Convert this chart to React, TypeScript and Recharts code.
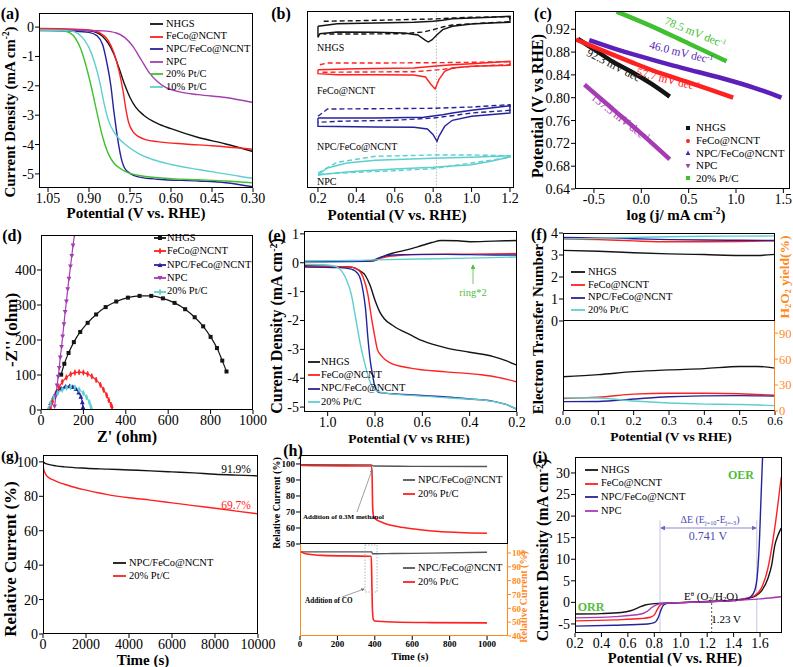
import React from "react";
import { LineChart, Line, XAxis, YAxis, ReferenceLine } from "recharts";

const FONT = "'Liberation Serif','Times New Roman',Times,serif";
const ORANGE = "#ff8a1c";
const GREEN = "#52bd3c";

type P = [number, number];
type Rect = { x: number; y: number; w: number; h: number };
type Mk = "sq" | "circ" | "tri" | "trid" | "star";

// ---------- (a) ORR LSV ----------
const aXTicks = [1.05, 0.9, 0.75, 0.6, 0.45, 0.3];
const aYTicks = [0, -1, -2, -3, -4, -5];
const aNHGS: P[] = [[1.08, -0.08], [0.95, -0.1], [0.9, -0.13], [0.87, -0.2], [0.85, -0.32], [0.83, -0.55], [0.81, -0.9], [0.79, -1.4], [0.77, -1.95], [0.75, -2.4], [0.73, -2.72], [0.7, -3.0], [0.65, -3.28], [0.6, -3.46], [0.5, -3.76], [0.4, -3.98], [0.3, -4.24]];
const aFeCo: P[] = [[1.08, -0.05], [0.95, -0.07], [0.9, -0.1], [0.86, -0.2], [0.83, -0.45], [0.81, -0.85], [0.79, -1.5], [0.775, -2.2], [0.765, -2.8], [0.755, -3.25], [0.74, -3.55], [0.72, -3.72], [0.69, -3.84], [0.65, -3.9], [0.55, -3.98], [0.45, -4.04], [0.3, -4.16]];
const aNPCFeCo: P[] = [[1.08, -0.12], [0.95, -0.14], [0.9, -0.18], [0.87, -0.3], [0.85, -0.6], [0.835, -1.2], [0.82, -2.0], [0.81, -2.8], [0.8, -3.5], [0.79, -4.1], [0.78, -4.55], [0.77, -4.8], [0.75, -4.98], [0.72, -5.1], [0.65, -5.18], [0.5, -5.24], [0.4, -5.3], [0.3, -5.44]];
const aNPC: P[] = [[1.08, -0.08], [0.95, -0.1], [0.85, -0.13], [0.8, -0.2], [0.77, -0.35], [0.74, -0.65], [0.71, -1.1], [0.68, -1.55], [0.65, -1.85], [0.62, -2.05], [0.58, -2.18], [0.5, -2.3], [0.4, -2.4], [0.3, -2.57]];
const aPt20: P[] = [[1.08, -0.1], [1.0, -0.12], [0.97, -0.2], [0.95, -0.38], [0.93, -0.75], [0.91, -1.35], [0.89, -2.1], [0.87, -2.95], [0.85, -3.75], [0.83, -4.3], [0.81, -4.62], [0.78, -4.85], [0.75, -4.98], [0.7, -5.08], [0.6, -5.16], [0.5, -5.2], [0.4, -5.24], [0.3, -5.3]];
const aPt10: P[] = [[1.08, -0.1], [0.97, -0.13], [0.94, -0.22], [0.92, -0.4], [0.9, -0.7], [0.88, -1.2], [0.86, -1.9], [0.845, -2.6], [0.83, -3.15], [0.81, -3.55], [0.79, -3.8], [0.76, -4.05], [0.72, -4.3], [0.67, -4.5], [0.6, -4.68], [0.5, -4.85], [0.4, -5.0], [0.35, -5.08], [0.3, -5.15]];

// ---------- (b) CV loops (arbitrary current, stacked) ----------
const bXTicks = [0.2, 0.4, 0.6, 0.8, 1.0, 1.2];
const bNHGS: P[] = [[0.2, 161.7], [0.3, 164.3], [0.5, 165], [0.7, 165.7], [0.8, 166.7], [0.85, 167.7], [0.9, 169.3], [1.0, 170], [1.1, 170.7], [1.2, 171.7], [1.2, 165.7], [1.1, 165], [1.0, 164], [0.9, 161.7], [0.85, 158.3], [0.82, 153.3], [0.795, 148.3], [0.775, 146], [0.76, 147.7], [0.72, 153], [0.65, 155], [0.5, 155.7], [0.3, 156], [0.21, 154.3], [0.2, 150.7], [0.2, 161.7]];
const bNHGSd: P[] = [[0.23, 166.7], [0.5, 167.7], [0.8, 169], [0.9, 170], [1.0, 170.7], [1.2, 171.3], [1.2, 166.3], [1.0, 164.3], [0.9, 163], [0.85, 161], [0.8, 158.3], [0.75, 156], [0.65, 154.3], [0.4, 154], [0.23, 154]];
const bFeCo: P[] = [[0.2, 118.3], [0.4, 119.3], [0.7, 120], [0.8, 121.7], [0.9, 123.3], [1.0, 124.3], [1.2, 126.7], [1.2, 122.7], [1.0, 121.7], [0.9, 120], [0.86, 116.7], [0.83, 108.3], [0.81, 99], [0.79, 103.3], [0.76, 111], [0.7, 113], [0.5, 113.3], [0.3, 113.3], [0.2, 114.3], [0.2, 118.3]];
const bFeCod: P[] = [[0.21, 123.3], [0.25, 125], [0.5, 125], [0.8, 125.3], [1.0, 125.7], [1.2, 126.3], [1.2, 123.3], [1.0, 121.7], [0.9, 119.7], [0.8, 117.7], [0.7, 116.3], [0.4, 116], [0.21, 115.7]];
const bNPCFeCo: P[] = [[0.2, 70], [0.5, 70], [0.75, 70.7], [0.85, 73.3], [0.9, 75], [1.0, 77.7], [1.2, 82.3], [1.2, 75], [1.0, 71.7], [0.9, 67.7], [0.86, 61.7], [0.83, 51.7], [0.82, 46.7], [0.8, 53.3], [0.77, 59], [0.7, 60.7], [0.5, 61], [0.2, 61.7], [0.2, 70]];
const bNPCFeCod: P[] = [[0.2, 71.7], [0.25, 79], [0.5, 79.3], [0.8, 79.7], [1.0, 81], [1.2, 83.3], [1.2, 77.7], [1.0, 75], [0.9, 72.3], [0.8, 70], [0.6, 67.7], [0.3, 66.7], [0.2, 65.7]];
const bNPC: P[] = [[0.2, 13.3], [0.25, 20], [0.35, 25], [0.5, 27.7], [0.8, 29.7], [1.0, 30.7], [1.2, 32.3], [1.2, 31], [1.1, 26.7], [1.0, 23.3], [0.8, 20.7], [0.6, 19], [0.4, 16.7], [0.25, 14.3], [0.2, 12.7]];
const bNPCd: P[] = [[0.2, 15], [0.3, 25.7], [0.5, 31.7], [0.8, 33], [1.0, 33], [1.2, 32.3], [1.2, 30.7], [1.0, 25], [0.8, 19.3], [0.6, 17.3], [0.4, 15.7], [0.2, 13.7]];

// ---------- (c) Tafel ----------
const cXTicks = [-0.5, 0, 0.5, 1.0, 1.5];
const cYTicks = [0.64, 0.68, 0.72, 0.76, 0.8, 0.84, 0.88, 0.92];
const cNHGS: P[] = [[-0.67, 0.903], [-0.5, 0.885], [-0.3, 0.863], [-0.1, 0.845], [0.1, 0.825], [0.3, 0.802]];
const cFeCo: P[] = [[-0.69, 0.902], [-0.4, 0.882], [-0.1, 0.862], [0.2, 0.843], [0.5, 0.827], [0.75, 0.813], [0.97, 0.8]];
const cNPCFeCo: P[] = [[-0.55, 0.901], [-0.3, 0.887], [0, 0.872], [0.3, 0.858], [0.6, 0.845], [0.9, 0.832], [1.2, 0.817], [1.48, 0.8]];
const cNPC: P[] = [[-0.6, 0.823], [-0.3, 0.78], [0, 0.737], [0.3, 0.692]];
const cPt20: P[] = [[-0.26, 0.951], [0.1, 0.926], [0.5, 0.895], [0.9, 0.864]];

// ---------- (d) Nyquist ----------
const dXTicks = [0, 200, 400, 600, 800, 1000];
const dYTicks = [0, 100, 200, 300, 400];
const dNHGS: P[] = [[95, 101], [110, 132], [130, 163], [155, 194], [185, 223], [220, 249], [260, 273], [305, 294], [355, 310], [410, 321], [465, 326], [520, 326], [575, 319], [630, 306], [680, 288], [725, 265], [765, 239], [800, 209], [830, 177], [855, 141], [875, 110]];
const dFeCo: P[] = [[45, 5], [55, 25], [70, 48], [85, 65], [100, 80], [120, 93], [140, 102], [160, 107], [180, 108], [200, 107], [220, 103], [240, 96], [260, 86], [280, 72], [295, 58], [310, 42], [320, 28], [330, 15], [335, 8]];
const dNPCFeCo: P[] = [[35, 2], [45, 20], [60, 38], [75, 52], [95, 62], [115, 67], [135, 68], [150, 66], [165, 60], [178, 50], [188, 38], [195, 22], [198, 8], [200, 2]];
const dNPC: P[] = [[64, 10], [70, 40], [76, 70], [81, 95], [86, 120], [91, 150], [97, 180], [102, 210], [108, 245], [114, 280], [120, 310], [126, 345], [132, 375], [139, 410], [145, 440], [151, 470], [158, 500]];
const dPt20: P[] = [[35, 2], [45, 18], [60, 35], [78, 48], [100, 58], [120, 64], [140, 66], [160, 64], [180, 58], [200, 48], [215, 36], [228, 22], [235, 10], [238, 3]];

// ---------- (e) RRDE disk / ring ----------
const eXTicks = [1.0, 0.8, 0.6, 0.4, 0.2];
const eYTicks = [1, 0, -1, -2, -3, -4, -5];
const eNHGS: P[] = [[1.1, -0.1], [1.0, -0.12], [0.9, -0.15], [0.87, -0.25], [0.84, -0.45], [0.82, -0.8], [0.8, -1.3], [0.78, -1.7], [0.76, -1.95], [0.72, -2.2], [0.65, -2.5], [0.6, -2.7], [0.5, -2.95], [0.4, -3.1], [0.3, -3.25], [0.25, -3.38], [0.2, -3.55]];
const eFeCo: P[] = [[1.1, -0.12], [0.9, -0.15], [0.87, -0.25], [0.85, -0.5], [0.83, -1.1], [0.815, -1.9], [0.8, -2.6], [0.79, -3.0], [0.77, -3.25], [0.74, -3.45], [0.65, -3.65], [0.5, -3.78], [0.35, -3.88], [0.28, -3.97], [0.2, -4.13]];
const eNPCFeCo: P[] = [[1.1, -0.15], [0.95, -0.17], [0.9, -0.22], [0.87, -0.4], [0.85, -1.0], [0.84, -1.6], [0.83, -2.6], [0.82, -3.4], [0.81, -3.9], [0.8, -4.3], [0.78, -4.5], [0.7, -4.55], [0.6, -4.6], [0.5, -4.65], [0.4, -4.72], [0.3, -4.8], [0.25, -4.9], [0.2, -5.08]];
const ePt20: P[] = [[1.1, -0.05], [1.0, -0.08], [0.96, -0.15], [0.94, -0.3], [0.92, -0.6], [0.9, -1.1], [0.88, -2.0], [0.86, -2.9], [0.84, -3.6], [0.82, -4.15], [0.8, -4.4], [0.77, -4.5], [0.6, -4.62], [0.45, -4.7], [0.35, -4.75], [0.3, -4.8], [0.25, -4.9], [0.2, -5.08]];
const eNHGSr: P[] = [[1.1, 0.05], [0.85, 0.05], [0.8, 0.08], [0.77, 0.2], [0.73, 0.32], [0.68, 0.42], [0.62, 0.55], [0.56, 0.7], [0.52, 0.77], [0.45, 0.76], [0.4, 0.73], [0.3, 0.75], [0.2, 0.77]];
const eFeCor: P[] = [[1.1, 0.05], [0.82, 0.05], [0.78, 0.15], [0.74, 0.22], [0.68, 0.27], [0.6, 0.29], [0.4, 0.3], [0.2, 0.32]];
const eNPCFeCor: P[] = [[1.1, 0.03], [0.82, 0.06], [0.78, 0.18], [0.74, 0.26], [0.68, 0.28], [0.5, 0.29], [0.3, 0.27], [0.2, 0.27]];
const ePt20r: P[] = [[1.1, 0.07], [0.9, 0.08], [0.8, 0.1], [0.6, 0.13], [0.4, 0.16], [0.2, 0.2]];

// ---------- (f) electron transfer number / H2O2 yield ----------
const fXTicks = [0, 0.1, 0.2, 0.3, 0.4, 0.5, 0.6];
const fNTicks = [0, 1, 2, 3, 4];
const fHTicks = [0, 30, 60, 90];
const fnNHGS: P[] = [[0, 3.21], [0.1, 3.17], [0.2, 3.1], [0.3, 3.05], [0.4, 3.02], [0.5, 2.98], [0.55, 2.98], [0.6, 3.03]];
const fnFeCo: P[] = [[0, 3.73], [0.1, 3.7], [0.2, 3.64], [0.3, 3.6], [0.4, 3.6], [0.5, 3.61], [0.6, 3.64]];
const fnNPCFeCo: P[] = [[0, 3.8], [0.1, 3.78], [0.2, 3.74], [0.3, 3.7], [0.4, 3.68], [0.5, 3.67], [0.6, 3.66]];
const fnPt20: P[] = [[0, 3.72], [0.1, 3.76], [0.2, 3.8], [0.3, 3.83], [0.4, 3.85], [0.5, 3.86], [0.6, 3.87]];
const fhNHGS: P[] = [[0, 39.5], [0.1, 42], [0.2, 45.5], [0.3, 47.5], [0.4, 49], [0.5, 51.5], [0.55, 51.5], [0.6, 49.5]];
const fhFeCo: P[] = [[0, 14.5], [0.1, 16], [0.2, 19.5], [0.3, 20.5], [0.4, 20.5], [0.5, 20], [0.6, 18.2]];
const fhNPCFeCo: P[] = [[0, 10.8], [0.1, 11], [0.2, 13.8], [0.3, 16.5], [0.4, 17.5], [0.5, 17.8], [0.6, 17.2]];
const fhPt20: P[] = [[0, 15.2], [0.1, 15], [0.2, 11.5], [0.3, 9.2], [0.4, 8], [0.5, 7.5], [0.6, 6.2]];

// ---------- (g) stability ----------
const gXTicks = [0, 2000, 4000, 6000, 8000, 10000];
const gYTicks = [0, 20, 40, 60, 80, 100];
const gNPCFeCo: P[] = [[0, 100], [100, 99.2], [300, 98.4], [600, 97.7], [1000, 97.1], [2000, 96.3], [3000, 95.8], [4000, 95.3], [5000, 94.8], [6000, 94.2], [7000, 93.6], [8000, 92.8], [9000, 92.3], [10000, 91.9]];
const gPt20: P[] = [[0, 99.5], [30, 96], [80, 94], [155, 92.2], [300, 90.6], [500, 89.4], [800, 87.8], [1000, 87], [1500, 85.1], [2000, 83.6], [2500, 82.2], [3000, 81], [4000, 79.2], [5000, 77.8], [6000, 76.2], [7000, 74.6], [8000, 73.1], [9000, 71.4], [10000, 69.8]];

// ---------- (h) methanol / CO tolerance ----------
const hXTicks = [0, 200, 400, 600, 800, 1000];
const hTopTicks = [50, 60, 70, 80, 90, 100];
const hBotTicks = [40, 50, 60, 70, 80, 90, 100];
const hMeNPC: P[] = [[0, 99.6], [380, 99.4], [395, 98.7], [600, 98.5], [1000, 98.4]];
const hMePt: P[] = [[0, 99.6], [20, 99.0], [100, 98.9], [383, 98.7], [386, 90], [388, 75], [392, 68], [400, 66], [450, 63], [527, 60.8], [600, 59.5], [705, 58.1], [850, 57.2], [1000, 56.7]];
const hCoNPC: P[] = [[0, 100.8], [383, 100.8], [388, 99.4], [500, 99.6], [700, 99.9], [1000, 100.5]];
const hCoPt: P[] = [[0, 101.2], [30, 99.5], [120, 98.3], [375, 97.6], [381, 97.5], [384, 80], [387, 60], [392, 52], [400, 50.8], [500, 50.1], [700, 49.7], [1000, 49.5]];

// ---------- (i) bifunctional ORR/OER ----------
const iXTicks = [0.2, 0.4, 0.6, 0.8, 1.0, 1.2, 1.4, 1.6];
const iYTicks = [-5, 0, 5, 10, 15, 20, 25, 30];
const iNHGS: P[] = [[0.2, -2.7], [0.4, -2.6], [0.55, -2.35], [0.62, -1.95], [0.68, -1.2], [0.73, -0.6], [0.8, -0.3], [0.9, -0.15], [1.0, -0.05], [1.2, 0.15], [1.4, 0.5], [1.5, 0.9], [1.56, 1.4], [1.61, 2.6], [1.66, 5.6], [1.69, 9], [1.71, 13], [1.735, 15.5], [1.76, 17.2]];
const iFeCo: P[] = [[0.2, -4.3], [0.5, -4.05], [0.7, -3.75], [0.77, -3.45], [0.8, -2.9], [0.82, -1.8], [0.84, -0.8], [0.87, -0.3], [0.95, -0.1], [1.2, 0.2], [1.4, 0.5], [1.5, 1.0], [1.56, 1.6], [1.61, 3.3], [1.66, 8], [1.71, 17], [1.76, 29]];
const iNPCFeCo: P[] = [[0.2, -5.5], [0.5, -5.3], [0.75, -5.0], [0.8, -4.7], [0.83, -3.5], [0.85, -1.8], [0.87, -0.6], [0.9, -0.2], [1.0, -0.05], [1.2, 0.2], [1.4, 0.45], [1.5, 0.8], [1.53, 1.3], [1.56, 2.8], [1.58, 6.5], [1.595, 14], [1.607, 24], [1.62, 34.5]];
const iNPC: P[] = [[0.2, -3.6], [0.5, -3.3], [0.7, -2.7], [0.75, -2.0], [0.78, -1.2], [0.82, -0.5], [0.87, -0.2], [1.0, -0.05], [1.2, 0.15], [1.4, 0.4], [1.6, 0.8], [1.76, 1.3]];

const BLK = "#141414";
const RED = "#ff2020";
const NAVY = "#26239a";
const MAG = "#a63cb2";
const CYAN = "#5ecfcf";
const PTGREEN = "#40c030";
const VIOLET = "#5c1fb8";

const ML = 52, MR = 44, MT = 12, MB = 40;

function mark(k: Mk, cx: number, cy: number, c: string, s = 2) {
  switch (k) {
    case "sq":
      return <rect x={cx - s} y={cy - s} width={2 * s} height={2 * s} fill={c} />;
    case "circ":
      return <circle cx={cx} cy={cy} r={s} fill={c} />;
    case "tri":
      return <polygon points={`${cx},${cy - s * 1.3} ${cx - s * 1.2},${cy + s} ${cx + s * 1.2},${cy + s}`} fill={c} />;
    case "trid":
      return <polygon points={`${cx},${cy + s * 1.3} ${cx - s * 1.2},${cy - s} ${cx + s * 1.2},${cy - s}`} fill={c} />;
    default:
      return <polygon points={`${cx},${cy - s * 1.4} ${cx + s * 0.5},${cy} ${cx},${cy + s * 1.4} ${cx - s * 0.5},${cy}`} fill={c} stroke={c} strokeWidth={0.8} />;
  }
}

interface Ser { pts: P[]; c: string; w?: number; dash?: string; mk?: Mk; lin?: boolean }
interface PlotProps {
  r: Rect;
  xd: [number, number];
  yd: [number, number];
  xt?: number[];
  yt?: number[];
  xf?: (v: number) => string;
  yf?: (v: number) => string;
  rev?: boolean;
  right?: boolean;
  fs?: number;
  bold?: boolean;
  yc?: string;
  ser: Ser[];
  children?: React.ReactNode;
}

function Plot(p: PlotProps) {
  const { r } = p;
  const fs = p.fs ?? 14;
  const yc = p.yc ?? "#000";
  const xTick = { fill: "#000", fontSize: fs, fontFamily: FONT, fontWeight: p.bold ? 700 : 400 };
  const yTick = { ...xTick, fill: yc };
  return (
    <div style={{ position: "absolute", left: r.x - ML, top: r.y - MT }}>
      <LineChart
        width={r.w + ML + MR}
        height={r.h + MT + MB}
        margin={{ top: MT, bottom: 0, left: p.right ? ML : 0, right: p.right ? 0 : MR }}
      >
        <XAxis
          type="number"
          dataKey="x"
          domain={p.xd}
          allowDataOverflow
          reversed={p.rev}
          ticks={p.xt}
          interval={0}
          tickFormatter={p.xf}
          height={MB}
          tick={p.xt ? xTick : false}
          tickLine={p.xt ? { stroke: "#000" } : false}
          tickSize={4}
          tickMargin={1}
          axisLine={false}
        />
        <YAxis
          type="number"
          dataKey="y"
          domain={p.yd}
          allowDataOverflow
          orientation={p.right ? "right" : "left"}
          width={p.right ? MR : ML}
          ticks={p.yt}
          interval={0}
          tickFormatter={p.yf}
          tick={p.yt ? yTick : false}
          tickLine={p.yt ? { stroke: yc } : false}
          tickSize={p.right ? 3 : 4}
          tickMargin={1}
          axisLine={false}
        />
        {p.children}
        {p.ser.map((s, i) => (
          <Line
            key={i}
            data={s.pts.map(([x, y]) => ({ x, y }))}
            dataKey="y"
            type={s.lin ? "linear" : "monotone"}
            stroke={s.c}
            strokeWidth={s.w ?? 1.4}
            strokeDasharray={s.dash}
            dot={s.mk ? (d: any) => <g key={`m${i}-${d.index}`}>{mark(s.mk as Mk, d.cx, d.cy, s.c)}</g> : false}
            activeDot={false}
            isAnimationActive={false}
          />
        ))}
      </LineChart>
    </div>
  );
}

function Frame({ r, c = ["#000", "#000", "#000", "#000"] }: { r: Rect; c?: string[] }) {
  const side = (v: string) => (v === "none" ? "none" : `1px solid ${v}`);
  return (
    <div
      style={{
        position: "absolute",
        left: r.x,
        top: r.y,
        width: r.w,
        height: r.h,
        boxSizing: "border-box",
        borderTop: side(c[0]),
        borderRight: side(c[1]),
        borderBottom: side(c[2]),
        borderLeft: side(c[3]),
      }}
    />
  );
}

function Tx(props: { x: number; y: number; s: number; b?: boolean; c?: string; rot?: number; left?: boolean; children: React.ReactNode }) {
  const { x, y, s, b, c, rot, left } = props;
  const tr = left ? "translate(0,-50%)" : "translate(-50%,-50%)";
  return (
    <div
      style={{
        position: "absolute",
        left: x,
        top: y,
        transform: `${tr}${rot ? ` rotate(${rot}deg)` : ""}`,
        fontFamily: FONT,
        fontSize: s,
        fontWeight: b ? 700 : 400,
        color: c ?? "#000",
        whiteSpace: "nowrap",
        lineHeight: 1,
      }}
    >
      {props.children}
    </div>
  );
}

interface LegItem { t: React.ReactNode; c: string; mk?: Mk }
function Legend(props: { x: number; y: number; dy: number; lw: number; gap: number; fs: number; items: LegItem[]; noLine?: boolean }) {
  const { x, y, dy, lw, gap, fs, items, noLine } = props;
  return (
    <>
      {items.map((it, i) => (
        <div
          key={i}
          style={{
            position: "absolute",
            left: x,
            top: y + i * dy,
            height: dy,
            display: "flex",
            alignItems: "center",
            fontFamily: FONT,
            fontSize: fs,
            whiteSpace: "nowrap",
            lineHeight: 1,
          }}
        >
          <svg width={lw} height={10} style={{ marginRight: gap, overflow: "visible" }}>
            {!noLine && <line x1={0} x2={lw} y1={5} y2={5} stroke={it.c} strokeWidth={1.8} />}
            {it.mk && mark(it.mk, lw / 2, 5, it.c)}
          </svg>
          <span>{it.t}</span>
        </div>
      ))}
    </>
  );
}

const sup = (t: string) => <sup style={{ fontSize: "0.62em", verticalAlign: "0.55em", lineHeight: 0 }}>{t}</sup>;
const sub = (t: string) => <sub style={{ fontSize: "0.62em", verticalAlign: "-0.25em", lineHeight: 0 }}>{t}</sub>;

const f1 = (v: number) => v.toFixed(1);
const f2 = (v: number) => v.toFixed(2);

const rA: Rect = { x: 39, y: 13, w: 214, h: 175 };
const rB: Rect = { x: 307, y: 11, w: 207, h: 177 };
const rC: Rect = { x: 575, y: 11, w: 215, h: 178 };
const rD: Rect = { x: 41, y: 235, w: 212, h: 175 };
const rE: Rect = { x: 304, y: 231, w: 213, h: 181 };
const rFT: Rect = { x: 563, y: 233, w: 212, h: 88 };
const rFB: Rect = { x: 563, y: 321, w: 212, h: 90 };
const rG: Rect = { x: 43, y: 455, w: 215, h: 179 };
const rHT: Rect = { x: 300, y: 455, w: 208, h: 89 };
const rHB: Rect = { x: 300, y: 544, w: 208, h: 92 };
const rI: Rect = { x: 575, y: 457, w: 207, h: 176 };

export default function App() {
  return (
    <div style={{ position: "relative", width: 793, height: 667, background: "#fff", overflow: "hidden" }}>
      <style>{"body{margin:0}"}</style>

      {/* (a) */}
      <Plot r={rA} xd={[0.3, 1.083]} yd={[-5.48, 0.48]} rev xt={aXTicks} yt={aYTicks} xf={f2}
        ser={[
          { pts: aNHGS, c: BLK }, { pts: aFeCo, c: RED }, { pts: aNPCFeCo, c: NAVY },
          { pts: aNPC, c: MAG }, { pts: aPt20, c: PTGREEN }, { pts: aPt10, c: CYAN },
        ]} />
      <Frame r={rA} />
      <Legend x={150} y={17.7} dy={12.6} lw={13} gap={3} fs={10.5}
        items={[
          { t: "NHGS", c: BLK }, { t: "FeCo@NCNT", c: RED }, { t: "NPC/FeCo@NCNT", c: NAVY },
          { t: "NPC", c: MAG }, { t: "20% Pt/C", c: PTGREEN }, { t: "10% Pt/C", c: CYAN },
        ]} />
      <Tx x={10} y={14} s={16} b>(a)</Tx>
      <Tx x={136} y={213} s={15} b>Potential (V vs. RHE)</Tx>
      <Tx x={10} y={112} s={15} b rot={-90}>Current Density (mA cm{sup("-2")})</Tx>

      {/* (b) */}
      <Plot r={rB} xd={[0.143, 1.221]} yd={[0, 177]} xt={bXTicks} xf={f1}
        ser={[
          { pts: bNHGS, c: BLK, lin: true }, { pts: bNHGSd, c: BLK, dash: "5 3", lin: true },
          { pts: bFeCo, c: RED, lin: true }, { pts: bFeCod, c: RED, dash: "5 3", lin: true },
          { pts: bNPCFeCo, c: NAVY, lin: true }, { pts: bNPCFeCod, c: NAVY, dash: "5 3", lin: true },
          { pts: bNPC, c: CYAN, lin: true }, { pts: bNPCd, c: CYAN, dash: "5 3", lin: true },
        ]}>
        <ReferenceLine x={0.817} stroke="#bdbdbd" strokeDasharray="1.5 1.5" />
      </Plot>
      <Frame r={rB} />
      <Tx x={317} y={48} s={10} left>NHGS</Tx>
      <Tx x={317} y={91} s={10} left>FeCo@NCNT</Tx>
      <Tx x={317} y={147} s={10} left>NPC/FeCo@NCNT</Tx>
      <Tx x={317} y={182} s={10} left>NPC</Tx>
      <Tx x={281} y={14} s={16} b>(b)</Tx>
      <Tx x={397} y={214.5} s={15} b>Potential (V vs. RHE)</Tx>

      {/* (c) */}
      <Plot r={rC} xd={[-0.7, 1.57]} yd={[0.64, 0.952]} xt={cXTicks} yt={cYTicks} xf={f1} yf={f2}
        ser={[
          { pts: cNHGS, c: BLK, w: 4.5 }, { pts: cFeCo, c: RED, w: 4.5 }, { pts: cNPCFeCo, c: VIOLET, w: 4.5 },
          { pts: cNPC, c: MAG, w: 4.5 }, { pts: cPt20, c: PTGREEN, w: 4.5 },
        ]} />
      <Frame r={rC} />
      <Legend x={684} y={121.7} dy={12.6} lw={8} gap={4} fs={11} noLine
        items={[
          { t: "NHGS", c: BLK, mk: "sq" }, { t: "FeCo@NCNT", c: RED, mk: "circ" }, { t: "NPC/FeCo@NCNT", c: VIOLET, mk: "tri" },
          { t: "NPC", c: MAG, mk: "trid" }, { t: "20% Pt/C", c: PTGREEN, mk: "sq" },
        ]} />
      <Tx x={695} y={33} s={11.5} c={PTGREEN} rot={22}>78.5 mV dec{sup("-1")}</Tx>
      <Tx x={681} y={53} s={11.5} c={VIOLET} rot={14}>46.0 mV dec{sup("-1")}</Tx>
      <Tx x={668} y={80} s={11.5} c={RED} rot={14}>57.7 mV dec{sup("-1")}</Tx>
      <Tx x={616} y={67} s={11.5} c={BLK} rot={27}>92.3 mV dec{sup("-1")}</Tx>
      <Tx x={620} y={118} s={11.5} c={MAG} rot={38}>137.5 mV dec{sup("-1")}</Tx>
      <Tx x={543} y={14} s={16} b>(c)</Tx>
      <Tx x={676} y={215} s={15} b>log (j/ mA cm{sup("-2")})</Tx>
      <Tx x={538} y={106} s={16} b rot={-90}>Potential (V vs RHE)</Tx>

      {/* (d) */}
      <Plot r={rD} xd={[0, 1000]} yd={[0, 500]} xt={dXTicks} yt={dYTicks}
        ser={[
          { pts: dNHGS, c: BLK, w: 1.2, mk: "sq" }, { pts: dFeCo, c: RED, w: 1.2, mk: "star" },
          { pts: dNPCFeCo, c: NAVY, w: 1.2, mk: "tri" }, { pts: dNPC, c: MAG, w: 1.2, mk: "trid" },
          { pts: dPt20, c: CYAN, w: 1.2, mk: "star" },
        ]} />
      <Frame r={rD} />
      <Legend x={154} y={231.3} dy={13.4} lw={12} gap={1} fs={10.5}
        items={[
          { t: "NHGS", c: BLK, mk: "sq" }, { t: "FeCo@NCNT", c: RED, mk: "star" }, { t: "NPC/FeCo@NCNT", c: NAVY, mk: "tri" },
          { t: "NPC", c: MAG, mk: "trid" }, { t: "20% Pt/C", c: CYAN, mk: "star" },
        ]} />
      <Tx x={12} y={236} s={16} b>(d)</Tx>
      <Tx x={127} y={437} s={16} b>Z' (ohm)</Tx>
      <Tx x={11} y={330} s={17} b rot={-90}>-Z'' (ohm)</Tx>

      {/* (e) */}
      <Plot r={rE} xd={[0.2, 1.1]} yd={[-5.17, 1.1]} rev xt={eXTicks} yt={eYTicks} xf={f1}
        ser={[
          { pts: eNHGS, c: BLK }, { pts: eFeCo, c: RED }, { pts: eNPCFeCo, c: NAVY }, { pts: ePt20, c: CYAN },
          { pts: eNHGSr, c: BLK }, { pts: eFeCor, c: RED }, { pts: eNPCFeCor, c: NAVY }, { pts: ePt20r, c: CYAN },
        ]} />
      <Frame r={rE} />
      <Legend x={308} y={355.4} dy={13.3} lw={12} gap={1} fs={10.5}
        items={[
          { t: "NHGS", c: BLK }, { t: "FeCo@NCNT", c: RED }, { t: "NPC/FeCo@NCNT", c: NAVY }, { t: "20% Pt/C", c: CYAN },
        ]} />
      <Tx x={473} y={293} s={10.5} c={GREEN}>ring*2</Tx>
      <Tx x={277} y={236} s={16} b>(e)</Tx>
      <Tx x={409} y={439} s={13.5} b>Potential (V vs RHE)</Tx>
      <Tx x={277} y={326} s={16} b rot={-90}>Curent Density (mA cm{sup("-2")})</Tx>

      {/* (f) */}
      <Plot r={rFT} xd={[0, 0.6]} yd={[0, 4]} yt={fNTicks}
        ser={[{ pts: fnNHGS, c: BLK }, { pts: fnFeCo, c: RED }, { pts: fnNPCFeCo, c: NAVY }, { pts: fnPt20, c: CYAN }]} />
      <Plot r={rFB} xd={[0, 0.6]} yd={[0, 104]} right xt={fXTicks} yt={fHTicks} xf={f1} yc={ORANGE} fs={12.5}
        ser={[{ pts: fhNHGS, c: BLK }, { pts: fhFeCo, c: RED }, { pts: fhNPCFeCo, c: NAVY }, { pts: fhPt20, c: CYAN }]} />
      <Frame r={rFT} />
      <Frame r={rFB} c={["none", ORANGE, "#000", "#000"]} />
      <Legend x={571} y={265.6} dy={12.8} lw={14} gap={3} fs={10.5}
        items={[
          { t: "NHGS", c: BLK }, { t: "FeCo@NCNT", c: RED }, { t: "NPC/FeCo@NCNT", c: NAVY }, { t: "20% Pt/C", c: CYAN },
        ]} />
      <Tx x={539} y={235} s={16} b>(f)</Tx>
      <Tx x={671} y={437} s={13.5} b>Potential (V vs RHE)</Tx>
      <Tx x={538} y={329} s={15} b rot={-90}>Electron Transfer Number</Tx>
      <Tx x={785} y={277} s={13.5} b c={ORANGE} rot={-90}>H{sub("2")}O{sub("2")} yield(%)</Tx>

      {/* (g) */}
      <Plot r={rG} xd={[0, 10000]} yd={[0, 104]} xt={gXTicks} yt={gYTicks}
        ser={[{ pts: gNPCFeCo, c: BLK }, { pts: gPt20, c: RED }]} />
      <Frame r={rG} />
      <Legend x={113} y={556} dy={13.5} lw={13} gap={3} fs={10.5}
        items={[{ t: "NPC/FeCo@NCNT", c: BLK }, { t: "20% Pt/C", c: RED }]} />
      <Tx x={236} y={470} s={11.5}>91.9%</Tx>
      <Tx x={236} y={506} s={11.5} c={RED}>69.7%</Tx>
      <Tx x={10} y={456} s={15.5} b>(g)</Tx>
      <Tx x={143} y={660} s={15} b>Time (s)</Tx>
      <Tx x={10} y={559} s={17} b rot={-90}>Relative Current (%)</Tx>

      {/* (h) */}
      <Plot r={rHT} xd={[0, 1112]} yd={[50, 105.6]} yt={hTopTicks} fs={9} bold
        ser={[{ pts: hMeNPC, c: "#555" }, { pts: hMePt, c: RED, w: 1.6 }]} />
      <Plot r={rHB} xd={[0, 1112]} yd={[40, 106.5]} right xt={hXTicks} yt={hBotTicks} fs={9} bold yc={ORANGE}
        ser={[{ pts: hCoNPC, c: "#555" }, { pts: hCoPt, c: RED, w: 1.6 }]} />
      <Frame r={rHT} />
      <Frame r={rHB} c={["none", ORANGE, ORANGE, ORANGE]} />
      <Legend x={403} y={473} dy={14} lw={12} gap={3} fs={10.5}
        items={[{ t: "NPC/FeCo@NCNT", c: "#555" }, { t: "20% Pt/C", c: RED }]} />
      <Legend x={403} y={561} dy={14} lw={12} gap={3} fs={10.5}
        items={[{ t: "NPC/FeCo@NCNT", c: "#555" }, { t: "20% Pt/C", c: RED }]} />
      <Tx x={303} y={517} s={7} b left>Addition of 0.3M methanol</Tx>
      <Tx x={305} y={602} s={7.2} b left>Addition of CO</Tx>
      <Tx x={293} y={451} s={16} b>(h)</Tx>
      <Tx x={410} y={657} s={10.5} b>Time (s)</Tx>
      <Tx x={277} y={503} s={10} b rot={-90}>Relative Current (%)</Tx>
      <Tx x={524} y={597} s={10} b c={ORANGE} rot={-90}>Relative Current (%)</Tx>

      {/* (i) */}
      <Plot r={rI} xd={[0.2, 1.766]} yd={[-7.1, 33.7]} xt={iXTicks} yt={iYTicks} xf={f1}
        ser={[{ pts: iNHGS, c: BLK }, { pts: iFeCo, c: RED }, { pts: iNPCFeCo, c: NAVY }, { pts: iNPC, c: MAG }]}>
        <ReferenceLine segment={[{ x: 0.843, y: -7.1 }, { x: 0.843, y: 19 }]} stroke="#c4c4e6" />
        <ReferenceLine segment={[{ x: 1.575, y: -7.1 }, { x: 1.575, y: 19 }]} stroke="#c4c4e6" />
        <ReferenceLine segment={[{ x: 1.234, y: -7.1 }, { x: 1.234, y: 0.3 }]} stroke="#555" strokeDasharray="2 2" />
      </Plot>
      <Frame r={rI} />
      <Legend x={585} y={463} dy={13.7} lw={13} gap={3} fs={10.5}
        items={[{ t: "NHGS", c: BLK }, { t: "FeCo@NCNT", c: RED }, { t: "NPC/FeCo@NCNT", c: NAVY }, { t: "NPC", c: MAG }]} />
      <Tx x={710} y={520} s={10} c="#4b4bb0">ΔE (E{sub("j=10")}-E{sub("j=-3")})</Tx>
      <Tx x={708} y={536} s={12} c="#4b4bb0">0.741 V</Tx>
      <Tx x={711} y={596} s={11}>E{sup("θ")} (O{sub("2")}/H{sub("2")}O)</Tx>
      <Tx x={726} y={619} s={11}>1.23 V</Tx>
      <Tx x={741} y={475} s={12} b c={GREEN}>OER</Tx>
      <Tx x={591} y={607} s={12} b c={GREEN}>ORR</Tx>
      <Tx x={540} y={458} s={16} b>(i)</Tx>
      <Tx x={675} y={658} s={14.5} b>Potential (V vs. RHE)</Tx>
      <Tx x={543} y={550} s={16} b rot={-90}>Current Density (mA cm{sup("-2")})</Tx>

      {/* annotation arrows */}
      <svg width={793} height={667} style={{ position: "absolute", left: 0, top: 0, pointerEvents: "none" }}>
        <defs>
          <marker id="ag" markerWidth="6" markerHeight="6" refX="5" refY="3" orient="auto">
            <path d="M0,0 L6,3 L0,6 z" fill={GREEN} />
          </marker>
          <marker id="ab" markerWidth="6" markerHeight="6" refX="5" refY="3" orient="auto-start-reverse">
            <path d="M0,0 L6,3 L0,6 z" fill="#6a6ac4" />
          </marker>
          <marker id="ak" markerWidth="5" markerHeight="5" refX="4" refY="2.5" orient="auto">
            <path d="M0,0 L5,2.5 L0,5 z" fill="#777" />
          </marker>
        </defs>
        <line x1={473} y1={284} x2={473} y2={265} stroke={GREEN} strokeWidth={0.8} markerEnd="url(#ag)" />
        <line x1={661} y1={528} x2={756} y2={528} stroke="#6a6ac4" strokeWidth={0.8} markerStart="url(#ab)" markerEnd="url(#ab)" />
        <rect x={365} y={545} width={12} height={47} fill="none" stroke="#999" strokeWidth={0.7} strokeDasharray="1.5 1.5" />
        <line x1={357} y1={512} x2={372} y2={470} stroke="#777" strokeWidth={0.7} markerEnd="url(#ak)" />
        <line x1={342} y1={597} x2={364} y2={589} stroke="#777" strokeWidth={0.7} markerEnd="url(#ak)" />
      </svg>
    </div>
  );
}
